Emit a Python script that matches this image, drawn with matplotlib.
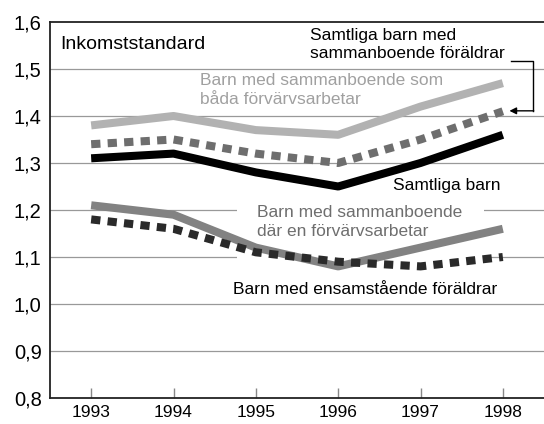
import matplotlib
matplotlib.use("Agg")
import matplotlib.pyplot as plt
from matplotlib import font_manager

years = [1993, 1994, 1995, 1996, 1997, 1998]
both_working = [1.38, 1.40, 1.37, 1.36, 1.42, 1.47]
all_cohabiting = [1.34, 1.35, 1.32, 1.30, 1.35, 1.41]
all_children = [1.31, 1.32, 1.28, 1.25, 1.30, 1.36]
one_working = [1.21, 1.19, 1.12, 1.08, 1.12, 1.16]
single_parent = [1.18, 1.16, 1.11, 1.09, 1.08, 1.10]
yticks = [0.8, 0.9, 1.0, 1.1, 1.2, 1.3, 1.4, 1.5, 1.6]
ytick_labels = ["0,8", "0,9", "1,0", "1,1", "1,2", "1,3", "1,4", "1,5", "1,6"]

names = {f.name for f in font_manager.fontManager.ttflist}
fam = ["Liberation Sans Narrow"] if "Liberation Sans Narrow" in names else []
plt.rcParams["font.family"] = fam + ["Liberation Sans", "DejaVu Sans"]

fig = plt.figure(figsize=(5.44, 4.24), dpi=100)
ax = fig.add_axes([50 / 544, 1 - 398 / 424, 1 - 50 / 544, (398 - 22) / 424])
ax.set_xlim(1992.5, 1998.5)
ax.set_ylim(0.8, 1.6)

ax.set_yticks(yticks)
ax.set_yticklabels(ytick_labels, fontsize=14.5)
ax.set_xticks(years)
ax.set_xticklabels([str(y) for y in years], fontsize=12.5)
ax.tick_params(axis="y", length=0, pad=6)
ax.tick_params(axis="x", direction="in", length=7, width=1, color="#888888", pad=5)
for y in yticks[1:-1]:
    ax.axhline(y, color="#999999", lw=0.9, zorder=0)
ax.spines["right"].set_visible(False)
for s in ["left", "bottom", "top"]:
    ax.spines[s].set_linewidth(1.3)
    ax.spines[s].set_color("#222222")

lw = 5.8
dash = (0, (1.15, 0.9))
ax.plot(years, both_working, color="#b2b2b2", lw=lw, solid_capstyle="butt", zorder=3)
ax.plot(years, all_cohabiting, color="#6e6e6e", lw=lw, linestyle=dash, dash_capstyle="butt", zorder=3)
ax.plot(years, all_children, color="#000000", lw=lw, solid_capstyle="butt", zorder=3)
ax.plot(years, one_working, color="#828282", lw=lw, solid_capstyle="butt", zorder=3)
ax.plot(years, single_parent, color="#2a2a2a", lw=lw, linestyle=dash, dash_capstyle="butt", zorder=4)

fs = 12.5
ax.text(1992.62, 1.552, "Inkomststandard", fontsize=14, va="center", ha="left")
ax.text(1995.66, 1.552, "Samtliga barn med\nsammanboende föräldrar", fontsize=fs,
        va="center", ha="left", linespacing=1.3)
ax.text(1994.32, 1.455, "Barn med sammanboende som\nbåda förvärvsarbetar", fontsize=fs,
        va="center", ha="left", color="#a0a0a0", linespacing=1.3)
ax.text(1996.67, 1.253, "Samtliga barn", fontsize=fs, va="center", ha="left")
ax.text(1995.02, 1.174, "Barn med sammanboende\ndär en förvärvsarbetar", fontsize=fs,
        va="center", ha="left", color="#6e6e6e", linespacing=1.3, zorder=2,
        bbox=dict(facecolor="white", edgecolor="none", pad=15))
ax.text(1994.72, 1.03, "Barn med ensamstående föräldrar", fontsize=fs, va="center", ha="left")

# connector arrow
ax.plot([1998.1, 1998.37, 1998.37], [1.517, 1.517, 1.411], color="black", lw=1, zorder=5)
ax.annotate("", xy=(1998.08, 1.411), xytext=(1998.375, 1.411),
            arrowprops=dict(arrowstyle="-|>", color="black", lw=1, mutation_scale=10,
                            shrinkA=0, shrinkB=0), zorder=5)

fig.savefig("out.png", dpi=100)
